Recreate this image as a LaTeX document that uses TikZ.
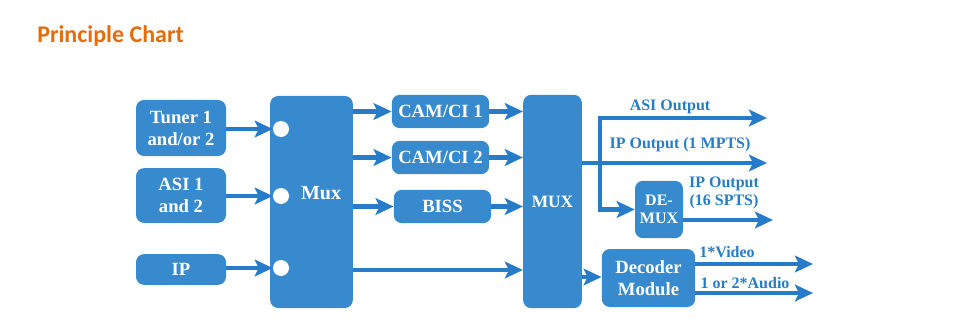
\documentclass[tikz,border=0pt]{standalone}
\usepackage{fontspec}
\setmainfont{Liberation Serif}
\newfontfamily\boxfont{Liberation Serif}
\newfontfamily\titlefont{Carlito}
\usetikzlibrary{arrows.meta}
\definecolor{boxblue}{RGB}{56,138,206}
\definecolor{arrowblue}{RGB}{38,124,200}
\definecolor{titleorange}{RGB}{228,108,10}
\tikzset{
	blk/.style={fill=boxblue, rounded corners=6pt, text=white, inner sep=0pt,
		font=\boxfont\bfseries\fontsize{14}{16.5}\selectfont, align=center},
	arr/.style={draw=arrowblue, line width=3.4pt,
		-{Stealth[length=13.5pt,width=12.5pt,inset=3pt]}},
	port/.style={circle, fill=white, minimum size=12pt, inner sep=0pt},
	lbl/.style={text=arrowblue, inner sep=0pt, align=center,
		font=\boxfont\bfseries\fontsize{12}{13.5}\selectfont},
}
\begin{document}
\begin{tikzpicture}[x=0.75pt, y=-0.75pt]
	\useasboundingbox (0,0) rectangle (960,335);
	\node[anchor=base west, inner sep=0pt, text=titleorange,
		font=\titlefont\bfseries\fontsize{18}{20}\selectfont] (title) at (37,42.5) {Principle Chart};

	% sources
	\node[blk, minimum width=67.5pt, minimum height=42pt] (tuner) at (181,128) {Tuner 1\\and/or 2};
	\node[blk, minimum width=67.5pt, minimum height=41pt] (asi) at (181,195.5) {ASI 1\\and 2};
	\node[blk, minimum width=67.5pt, minimum height=23pt] (ip) at (181,269.5) {IP};

	% input mux
	\node[blk, minimum width=62pt, minimum height=159pt] (mux) at (311.5,202) {};
	\node[text=white, inner sep=0pt, font=\boxfont\bfseries\fontsize{15}{17}\selectfont] (muxtext) at (321,193) {Mux};
	\node[port] (p1) at (281,129) {};
	\node[port] (p2) at (281,196) {};
	\node[port] (p3) at (281,268) {};
	\draw[arr] (tuner.east |- p1) -- (p1);
	\draw[arr] (asi.east |- p2) -- (p2);
	\draw[arr] (ip.east |- p3) -- (p3);

	% descrambling
	\node[blk, minimum width=73pt, minimum height=25pt] (cam1) at (440.5,111.5) {CAM/CI 1};
	\node[blk, minimum width=73pt, minimum height=25pt] (cam2) at (440.5,157.5) {CAM/CI 2};
	\node[blk, minimum width=73pt, minimum height=25pt] (biss) at (442.5,206.5) {BISS};
	\node[blk, minimum width=44pt, minimum height=160pt,
		font=\boxfont\bfseries\fontsize{13}{15}\selectfont] (MUX) at (552.5,201.5) {MUX};
	\draw[arr] (mux.east |- cam1) -- (cam1);
	\draw[arr] (mux.east |- cam2) -- (cam2);
	\draw[arr] (mux.east |- biss) -- (biss);
	\draw[arr] (cam1) -- (MUX.west |- cam1);
	\draw[arr] (cam2) -- (MUX.west |- cam2);
	\draw[arr] (biss) -- (MUX.west |- biss);
	\draw[arr] (mux.east |- 0,270) -- (MUX.west |- 0,270);

	% outputs
	\node[blk, minimum width=36pt, minimum height=43pt,
		font=\boxfont\bfseries\fontsize{12}{13.5}\selectfont] (demux) at (659,209.5) {DE-\\MUX};
	\node[blk, minimum width=70pt, minimum height=43.5pt] (dec) at (648.5,278) {Decoder\\Module};
	\coordinate (split) at (600,163);
	\coordinate (asiout) at (767,118);
	\coordinate (ipout) at (767,163);
	\coordinate (sptsout) at (773,220);
	\coordinate (vidout) at (813,264);
	\coordinate (audout) at (813,293);
	\draw[arr] (MUX.east |- ipout) -- (ipout);
	\draw[arr] (split) |- (asiout);
	\draw[arr] (split) |- (demux);
	\draw[arr] (demux.east |- sptsout) -- (sptsout);
	\draw[arr] (MUX.east |- 0,277) -- (dec.west |- 0,277);
	\draw[arr] (dec.east |- vidout) -- (vidout);
	\draw[arr] (dec.east |- audout) -- (audout);

	% labels
	\node[lbl] (asilbl) at (670,107) {ASI Output};
	\node[lbl] (mptslbl) at (680,145) {IP Output (1 MPTS)};
	\node[lbl] (sptslbl) at (724,193) {IP Output\\(16 SPTS)};
	\node[lbl] (vidlbl) at (727,252) {1*Video};
	\node[lbl] (audlbl) at (745,283) {1 or 2*Audio};
\end{tikzpicture}
\end{document}
